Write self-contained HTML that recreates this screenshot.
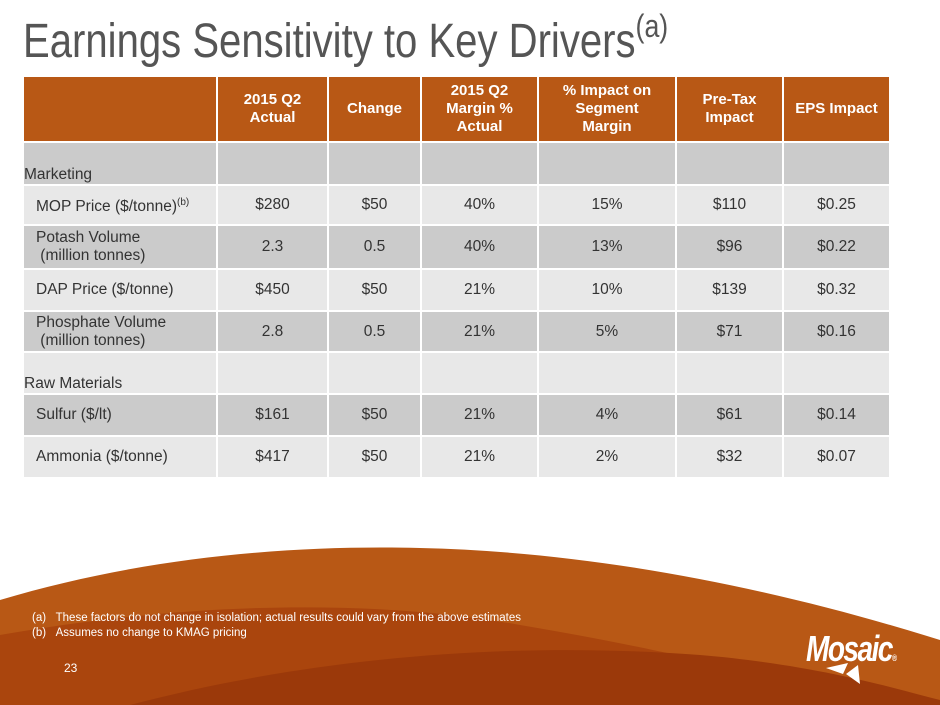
<!DOCTYPE html>
<html><head><meta charset="utf-8">
<style>
html,body{margin:0;padding:0}
body{width:940px;height:705px;position:relative;overflow:hidden;background:#fff;font-family:"Liberation Sans",Arial,sans-serif}
#title{position:absolute;left:23px;top:14px;font-size:48px;color:#555;white-space:nowrap;transform:scaleX(0.835);transform-origin:0 0;letter-spacing:0}
#title sup{font-size:32px;vertical-align:0;position:relative;top:-20px}
.c{position:absolute;display:flex;align-items:center;justify-content:center;text-align:center;font-size:15.5px;color:#333;box-sizing:border-box;line-height:18px}
.h{background:#b85815;color:#fff;font-weight:bold;font-size:15px}
.d{background:#cbcbcb}
.l{background:#e8e8e8}
.lab{justify-content:flex-start;padding-left:12px;text-align:left}
.sec{align-items:flex-end;justify-content:flex-start;padding-left:0;padding-bottom:0}
.foot{position:absolute;color:#fff;font-size:11.5px;white-space:nowrap}
</style></head><body>
<svg width="940" height="705" style="position:absolute;left:0;top:0">
<path d="M0 600 C150 555 300 545 420 548 C600 552 780 590 940 640 L940 705 L0 705Z" fill="#b85815"/>
<path d="M0 635 C200 600 380 600 520 625 C700 655 820 690 860 705 L0 705Z" fill="#aa450d"/>
<path d="M130 705 C300 660 500 640 700 655 C820 665 900 690 940 700 L940 705Z" fill="#9b390a"/>
</svg>
<div id="title">Earnings Sensitivity to Key Drivers<sup>(a)</sup></div>
<div id="tbl"></div>
<div class="foot" style="left:32px;top:612px">(a)&nbsp;&nbsp;&nbsp;These factors do not change in isolation; actual results could vary from the above estimates</div>
<div class="foot" style="left:32px;top:627px">(b)&nbsp;&nbsp;&nbsp;Assumes no change to KMAG pricing</div>
<div class="foot" style="left:64px;top:661px;font-size:12px">23</div>
<div style="position:absolute;left:806px;top:628px;color:#fff;font-weight:bold;font-style:italic;font-size:36px;letter-spacing:-2px;transform:scaleX(0.78);transform-origin:0 0">Mosaic<span style="font-size:9px">®</span></div>
<svg width="50" height="30" style="position:absolute;left:822px;top:660px"><path d="M4 8 L26 3 L21 14 Z M24 14 L36 5 L38 24 Z" fill="#fff"/></svg>
<script>
var L=[24,218,329,422,539,677,784,891];
var R=[[77,64,'h'],[143,41,'d'],[186,38,'l'],[226,42,'d'],[270,40,'l'],[312,39,'d'],[353,40,'l'],[395,40,'d'],[437,40,'l']];
var D=[
['','2015 Q2<br>Actual','Change','2015 Q2<br>Margin %<br>Actual','% Impact on<br>Segment<br>Margin','Pre-Tax<br>Impact','EPS Impact'],
['Marketing','','','','','',''],
['MOP Price ($/tonne)<sup style="font-size:10px">(b)</sup>','$280','$50','40%','15%','$110','$0.25'],
['Potash Volume<br>&nbsp;(million tonnes)','2.3','0.5','40%','13%','$96','$0.22'],
['DAP Price ($/tonne)','$450','$50','21%','10%','$139','$0.32'],
['Phosphate Volume<br>&nbsp;(million tonnes)','2.8','0.5','21%','5%','$71','$0.16'],
['Raw Materials','','','','','',''],
['Sulfur ($/lt)','$161','$50','21%','4%','$61','$0.14'],
['Ammonia ($/tonne)','$417','$50','21%','2%','$32','$0.07']];
var h='';
for(var r=0;r<R.length;r++){for(var c=0;c<7;c++){
var cls='c '+R[r][2];
if(c==0&&r>0){cls+=' lab';if(r==1||r==6)cls+=' sec';}
h+='<div class="'+cls+'" style="left:'+L[c]+'px;top:'+R[r][0]+'px;width:'+(L[c+1]-L[c]-2)+'px;height:'+R[r][1]+'px">'+(c==0&&r>0?'<div>'+D[r][c]+'</div>':D[r][c])+'</div>';}}
document.getElementById('tbl').innerHTML=h;
</script>
</body></html>
